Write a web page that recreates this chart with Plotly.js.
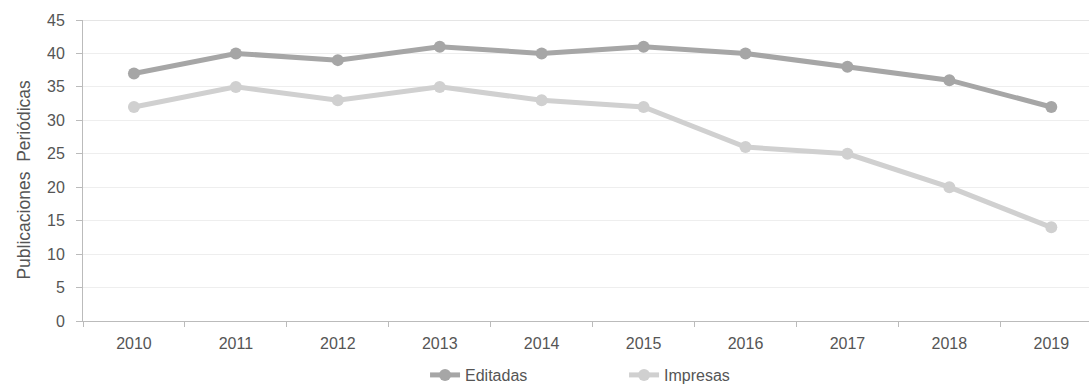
<!DOCTYPE html>
<html>
<head>
<meta charset="utf-8">
<script src="https://cdn.plot.ly/plotly-3.0.1.min.js"></script>
<style>html,body{margin:0;padding:0;background:#fff;}#chart{width:1089px;height:384px;}</style>
</head>
<body>
<div id="chart"></div>
<script>
var years = ["2010","2011","2012","2013","2014","2015","2016","2017","2018","2019"];
var editadas = [37, 40, 39, 41, 40, 41, 40, 38, 36, 32];
var impresas = [32, 35, 33, 35, 33, 32, 26, 25, 20, 14];
var yTitle = "Publicaciones\u00a0\u00a0Periódicas";

var fam = "Liberation Sans, Arial, sans-serif";
var font = {family: fam, size: 16, color: "#555"};

var traces = [
  {x: years, y: editadas, name: "Editadas", type: "scatter", mode: "lines+markers",
   line: {color: "#a6a6a6", width: 5}, marker: {color: "#a6a6a6", size: 12}},
  {x: years, y: impresas, name: "Impresas", type: "scatter", mode: "lines+markers",
   line: {color: "#d0d0d0", width: 5}, marker: {color: "#d0d0d0", size: 12}}
];

var layout = {
  width: 1089, height: 384,
  margin: {l: 83, r: 0, t: 20, b: 63},
  paper_bgcolor: "#fff", plot_bgcolor: "#fff",
  font: font,
  showlegend: true,
  legend: {orientation: "h", x: 0.34, xanchor: "left", yref: "container", y: 0.0234, yanchor: "middle",
           entrywidth: 154, entrywidthmode: "pixels", font: font, itemwidth: 30},
  xaxis: {type: "category", range: [-0.5, 9.37], showgrid: false, zeroline: false,
          showline: true, linecolor: "#bbb", linewidth: 1,
          ticks: "outside", ticklen: 5, tickcolor: "#bbb", tickson: "boundaries",
          tickfont: font, fixedrange: true, automargin: false, ticklabelstandoff: 8},
  yaxis: {range: [0, 45], dtick: 5, tick0: 0, showgrid: true, gridcolor: "#eeeeee",
          zeroline: false, showline: true, linecolor: "#bbb", linewidth: 1,
          ticks: "outside", ticklen: 6, tickcolor: "#bbb", tickfont: font, automargin: false,
          ticklabelstandoff: 8},
  annotations: [{text: yTitle, xref: "paper", yref: "paper", x: -0.0596, y: 0.47,
                 xanchor: "center", yanchor: "middle", textangle: -90, showarrow: false,
                 font: {family: fam, size: 17.5, color: "#555"}}],
  shapes: [{type: "line", xref: "paper", yref: "y", x0: 0, x1: 1, y0: 45, y1: 45,
            line: {color: "#ccc", width: 1}}]
};

Plotly.newPlot("chart", traces, layout, {displayModeBar: false, staticPlot: true});
</script>
</body>
</html>
